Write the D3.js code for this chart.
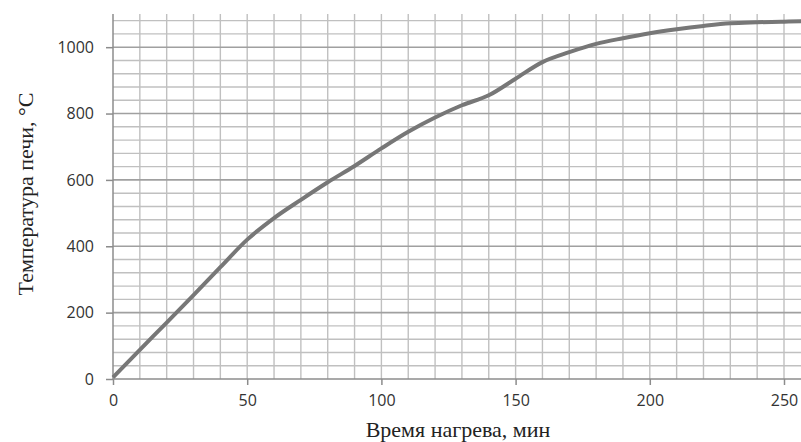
<!DOCTYPE html>
<html>
<head>
<meta charset="utf-8">
<script src="https://cdn.jsdelivr.net/npm/d3@7"></script>
<style>
  body { margin: 0; background: #fff; }
  svg { display: block; }
</style>
</head>
<body>
<div id="chart"></div>
<script>
// Heating time (min) and furnace temperature (°C)
const minutes = [0, 10, 20, 30, 40, 50, 60, 70, 80, 90, 100, 110, 120, 130, 140, 150, 160, 170, 180, 190, 200, 210, 220, 230, 240, 250, 258];
const temps   = [5, 88, 170, 253, 337, 420, 485, 540, 593, 642, 695, 745, 788, 825, 855, 905, 955, 985, 1010, 1027, 1042, 1054, 1064, 1072, 1075, 1077, 1078];
const xTicks = [0, 50, 100, 150, 200, 250];
const yTicks = [0, 200, 400, 600, 800, 1000];

const width = 801, height = 442;

const svg = d3.select("#chart").append("svg")
    .attr("width", width)
    .attr("height", height);

// Scales
const x = d3.scaleLinear().domain([0, 250]).range([113, 784]);
const y = d3.scaleLinear().domain([0, 1100]).range([379, 14]);

const xMax = x.invert(width);

// Grid: vertical every 10 min, horizontal every 40 °C (darker every 200)
const grid = svg.append("g");
grid.selectAll(".vgrid")
    .data(d3.range(10, xMax, 10))
  .enter().append("line")
    .attr("x1", d => x(d)).attr("x2", d => x(d))
    .attr("y1", y(1100)).attr("y2", y(0))
    .attr("stroke", "#c0c0c0")
    .attr("stroke-width", 1.4);

grid.selectAll(".hgrid")
    .data(d3.range(40, 1100, 40))
  .enter().append("line")
    .attr("x1", x(0)).attr("x2", width)
    .attr("y1", d => y(d)).attr("y2", d => y(d))
    .attr("stroke", d => d % 200 === 0 ? "#a0a0a0" : "#c0c0c0")
    .attr("stroke-width", d => d % 200 === 0 ? 1.6 : 1.4);

// Axes
const xAxis = svg.append("g")
    .attr("transform", "translate(0," + y(0) + ")")
    .call(d3.axisBottom(x).tickValues(xTicks).tickFormat(d3.format("d"))
        .tickSize(6).tickSizeOuter(0).tickPadding(10));
xAxis.select(".domain").attr("d", "M" + x(0) + ",0H" + width);

const yAxis = svg.append("g")
    .attr("transform", "translate(" + x(0) + ",0)")
    .call(d3.axisLeft(y).tickValues(yTicks).tickFormat(d3.format("d"))
        .tickSize(7).tickSizeOuter(0).tickPadding(12));
yAxis.select(".domain").attr("d", "M0," + y(1100) + "V" + y(0));

svg.selectAll(".domain, .tick line")
    .attr("stroke", "#8c8c8c")
    .attr("stroke-width", 1.5);
svg.selectAll(".tick text")
    .attr("fill", "#333")
    .style("font-family", "'Open Sans', sans-serif")
    .style("font-size", "16px");

// Curve
const line = d3.line()
    .x((d, i) => x(minutes[i]))
    .y(d => y(d))
    .curve(d3.curveMonotoneX);

svg.append("path")
    .datum(temps)
    .attr("fill", "none")
    .attr("stroke", "#777777")
    .attr("stroke-width", 4)
    .attr("stroke-linejoin", "round")
    .attr("d", line);

// Axis titles
svg.append("text")
    .attr("x", 458)
    .attr("y", 437)
    .attr("text-anchor", "middle")
    .attr("fill", "#222")
    .style("font-family", "'Liberation Serif', 'Times New Roman', serif")
    .style("font-size", "22px")
    .text("Время нагрева, мин");

svg.append("text")
    .attr("transform", "translate(33,194) rotate(-90)")
    .attr("text-anchor", "middle")
    .attr("fill", "#222")
    .style("font-family", "'Liberation Serif', 'Times New Roman', serif")
    .style("font-size", "22px")
    .text("Температура печи, °C");
</script>
</body>
</html>
